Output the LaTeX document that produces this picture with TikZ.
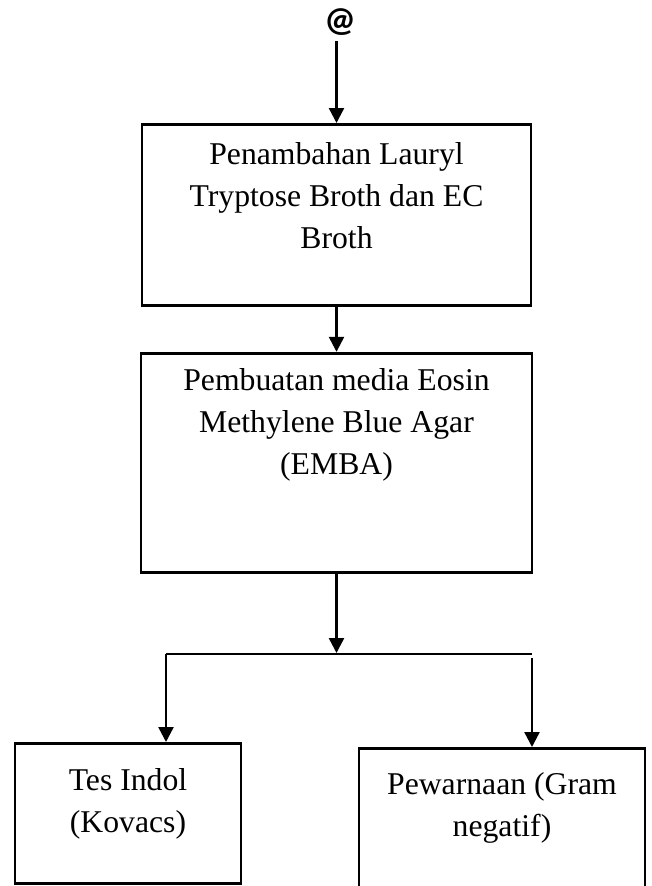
\documentclass[tikz,border=0pt]{standalone}
\usepackage{fontspec}
\setmainfont{Liberation Serif}
\newfontfamily\atfont{Carlito}
\usepackage{tikz}
\usetikzlibrary{arrows.meta, positioning}
\tikzstyle{stepbox} = [rectangle, draw, line width=2.8pt, inner sep=0pt, align=flush center, font=\fontsize{31.7}{42}\selectfont]
\tikzstyle{atsign} = [inner sep=0pt, font=\atfont\bfseries\fontsize{35}{40}\selectfont]
\tikzstyle{arrow} = [-{Triangle[length=15pt,width=15pt]}, line width=2.4pt]
\tikzstyle{branch} = [line width=1.4pt]

\begin{document}
\begin{tikzpicture}[x=1pt, y=-1pt]
  \useasboundingbox (0,0) rectangle (652,886);

  \node[atsign] (start) at (340,22) {@};
  \node[stepbox, text width=389pt, text height=40pt, text depth=141pt, anchor=north] (lauryl) at (336.5,123)
    {Penambahan Lauryl\\Tryptose Broth dan EC\\Broth};
  \node[stepbox, text width=391pt, text height=37pt, text depth=182pt, below=45pt of lauryl] (emba)
    {Pembuatan media Eosin\\Methylene Blue Agar\\(EMBA)};

  % the two tests at the bottom
  \node[stepbox, text width=226pt, text height=47pt, text depth=93pt, anchor=north] (indol) at (128,742)
    {Tes Indol\\(Kovacs)};
  \node[stepbox, text width=286pt, text height=46pt, text depth=100pt, anchor=north] (gram) at (502,747)
    {Pewarnaan (Gram\\negatif)};

  \coordinate (splitL) at (166,654);
  \coordinate (splitR) at (532,654);

  \draw[arrow, shorten <=5pt] (start.south -| lauryl.north) -- (lauryl.north);
  \draw[arrow] (lauryl) -- (emba);
  \draw[arrow] (emba.south) -- ([yshift=1pt]emba.south |- splitL);
  \draw[branch] (splitL) -- (splitR);
  \draw[arrow] (splitL) -- (splitL |- indol.north);
  \draw[arrow] ([yshift=-4pt]splitR) -- (splitR |- gram.north);
\end{tikzpicture}
\end{document}
